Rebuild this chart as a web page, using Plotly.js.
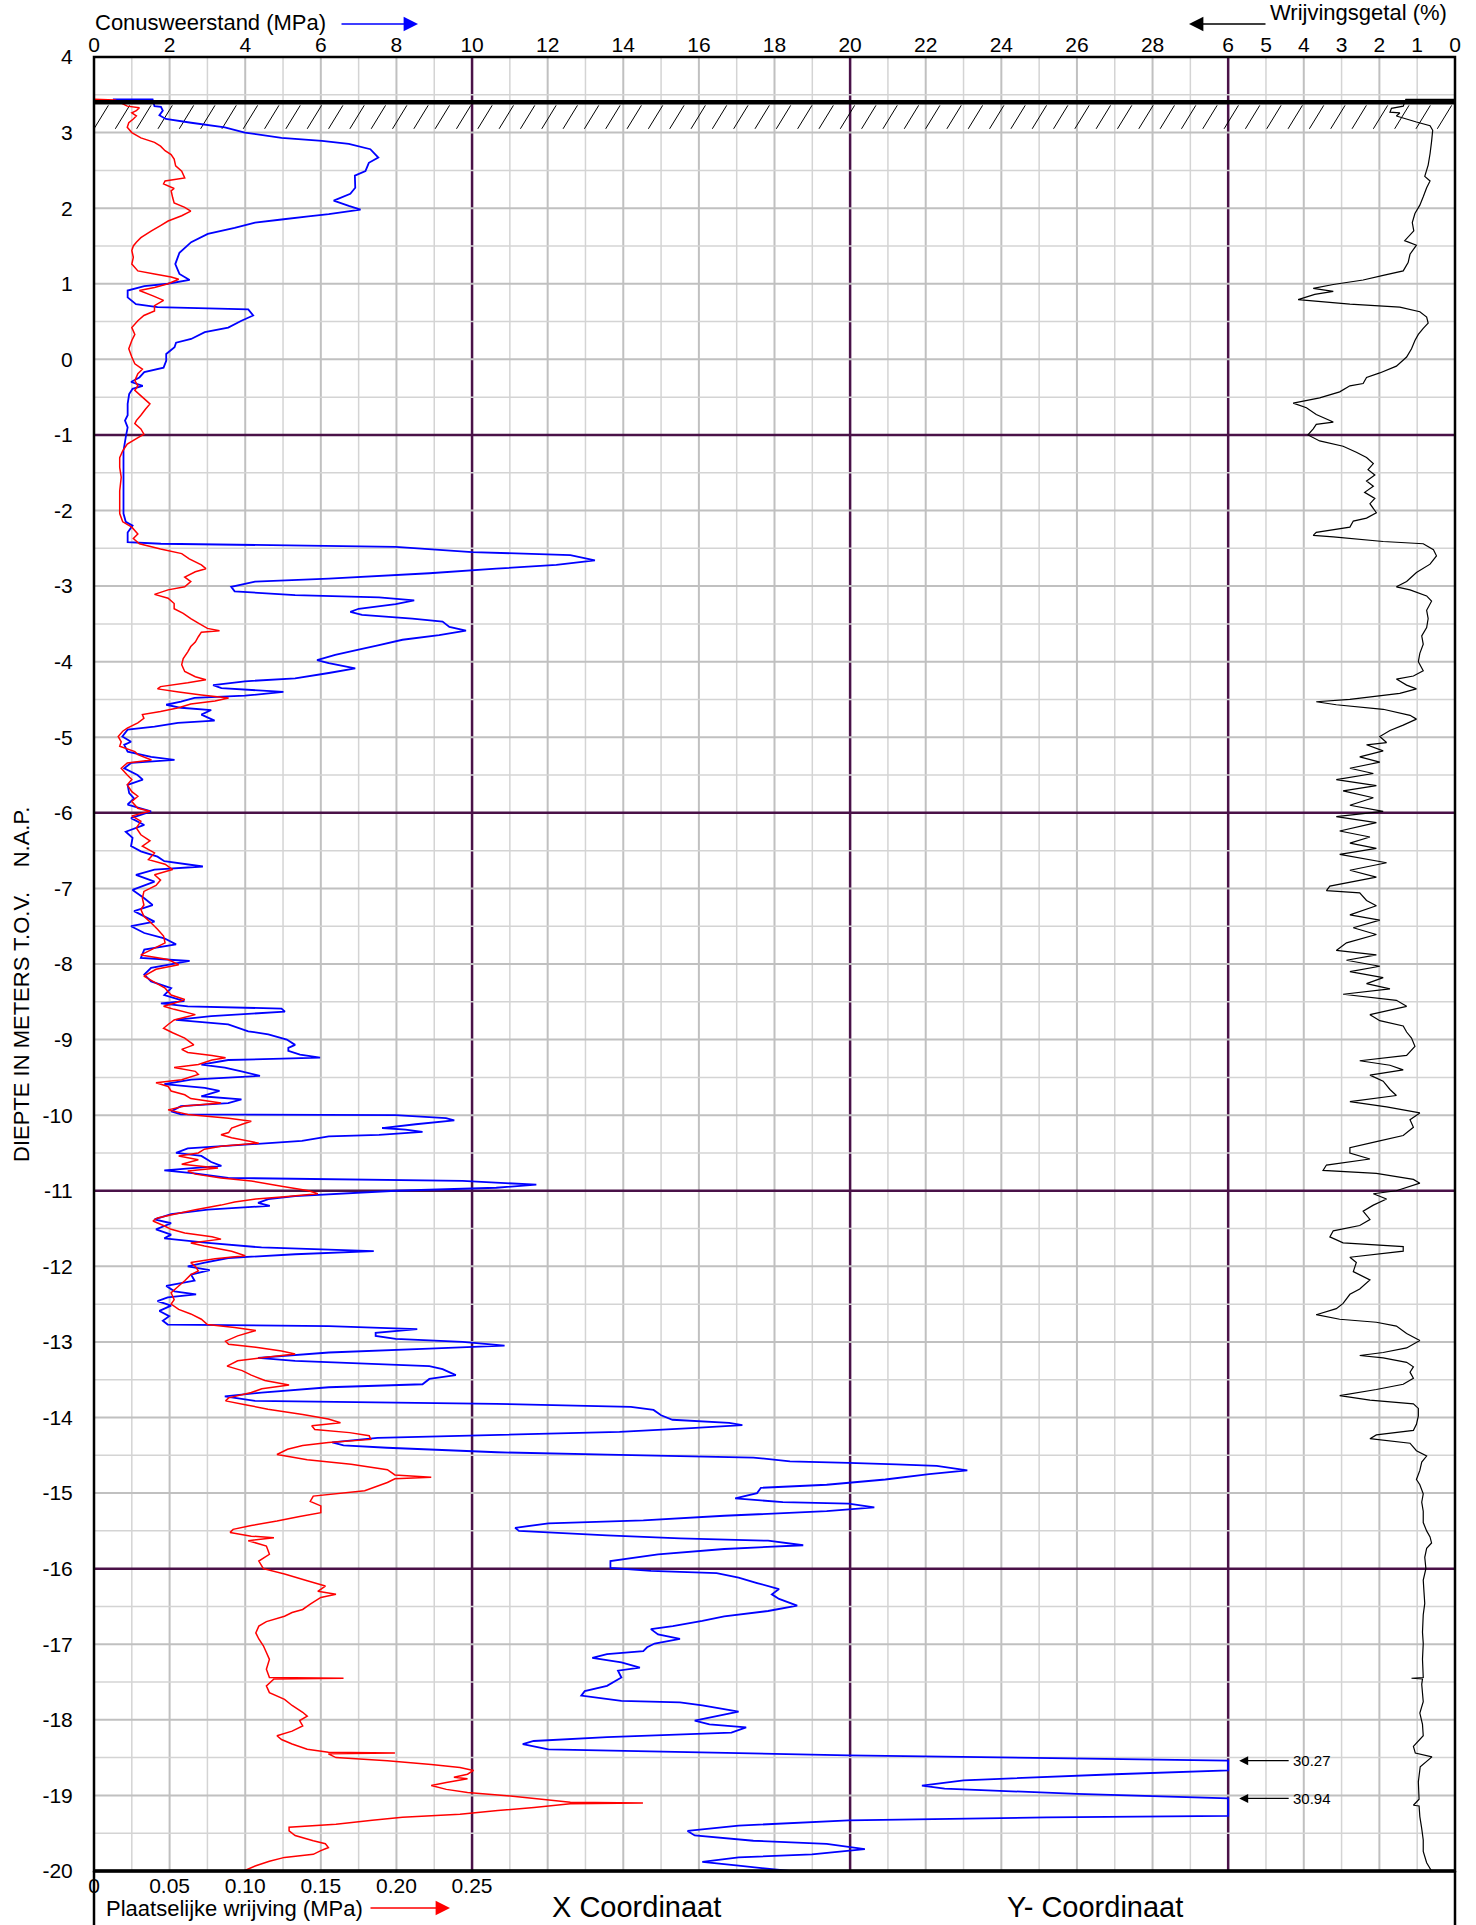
<!DOCTYPE html>
<html>
<head>
<meta charset="utf-8">
<script src="https://cdn.plot.ly/plotly-3.0.1.min.js"></script>
<style>
html,body{margin:0;padding:0;background:#fff;}
#chart{width:1476px;height:1925px;}
</style>
</head>
<body>
<div id="chart"></div>
<script>
// ---------------- DATA ----------------
const depthTicks = [4,3,2,1,0,-1,-2,-3,-4,-5,-6,-7,-8,-9,-10,-11,-12,-13,-14,-15,-16,-17,-18,-19,-20];
const depthTickText = depthTicks.map(v => String(v));
const coneTicks = [0,2,4,6,8,10,12,14,16,18,20,22,24,26,28];
const ratioTicks = [6,5,4,3,2,1,0];
const fricTicks = [0,0.05,0.10,0.15,0.20,0.25];
const fricTickText = ['0','0.05','0.10','0.15','0.20','0.25'];
const groundLevel = 3.40;      // m NAP
const coneLimit = 30;          // MPa, cone scale is cut off here

// Conusweerstand [depth (m NAP), qc (MPa)]
const coneReadings = [
[3.44,0.50],[3.44,1.55],[3.35,1.60],[3.34,1.77],[3.29,1.82],[3.23,1.73],[3.18,1.90],[3.13,2.57],[3.07,3.46],[3.00,3.99],
[2.93,4.96],[2.89,6.03],[2.85,6.74],[2.78,7.31],[2.67,7.52],[2.60,7.27],[2.49,7.18],[2.43,6.90],[2.27,6.91],[2.19,6.78],
[2.10,6.34],[2.03,6.74],[1.98,7.05],[1.92,6.21],[1.89,5.67],[1.85,4.96],[1.81,4.26],[1.74,3.72],[1.66,3.01],[1.55,2.57],
[1.41,2.26],[1.26,2.15],[1.13,2.26],[1.05,2.53],[1.00,1.95],[0.97,1.33],[0.91,0.89],[0.82,0.89],[0.73,1.11],[0.69,1.68],
[0.66,4.08],[0.58,4.21],[0.51,3.90],[0.42,3.55],[0.36,2.93],[0.27,2.57],[0.22,2.17],[0.16,2.13],[0.07,1.91],[-0.02,1.91],
[-0.11,1.84],[-0.17,1.33],[-0.24,1.20],[-0.30,0.98],[-0.35,1.29],[-0.39,1.02],[-0.46,0.93],[-0.59,0.89],[-0.74,0.89],[-0.81,0.82],
[-0.90,0.89],[-1.03,0.84],[-1.21,0.78],[-1.52,0.78],[-1.74,0.78],[-2.04,0.78],[-2.15,0.84],[-2.20,1.02],[-2.29,0.89],[-2.42,0.89],
[-2.44,1.77],[-2.48,7.98],[-2.55,10.0],[-2.59,12.6],[-2.66,13.25],[-2.72,12.23],[-2.77,10.64],[-2.83,8.87],[-2.90,6.21],[-2.94,4.26],
[-3.01,3.63],[-3.07,3.72],[-3.12,5.32],[-3.15,7.54],[-3.19,8.47],[-3.24,7.98],[-3.30,7.00],[-3.34,6.78],[-3.38,7.09],[-3.43,8.42],
[-3.47,9.22],[-3.54,9.40],[-3.59,9.84],[-3.65,9.13],[-3.71,8.16],[-3.78,7.54],[-3.85,6.91],[-3.91,6.38],[-3.98,5.90],[-4.02,6.21],
[-4.09,6.91],[-4.15,6.21],[-4.22,5.32],[-4.26,3.99],[-4.31,3.15],[-4.35,3.37],[-4.40,5.01],[-4.45,3.99],[-4.48,2.66],[-4.53,2.30],
[-4.57,1.91],[-4.61,2.30],[-4.64,3.10],[-4.70,2.84],[-4.78,3.19],[-4.81,2.22],[-4.86,1.60],[-4.90,0.89],[-4.99,0.75],[-5.06,0.98],
[-5.10,0.80],[-5.19,0.89],[-5.26,1.51],[-5.30,2.13],[-5.34,0.98],[-5.41,0.80],[-5.50,1.15],[-5.56,1.29],[-5.63,0.89],[-5.74,0.93],
[-5.81,1.06],[-5.89,0.89],[-5.98,1.51],[-6.07,0.98],[-6.16,1.33],[-6.25,0.84],[-6.33,1.02],[-6.44,0.98],[-6.51,1.24],[-6.58,1.68],
[-6.64,1.86],[-6.71,2.88],[-6.75,1.60],[-6.82,1.11],[-6.91,1.60],[-7.02,1.02],[-7.13,1.33],[-7.22,1.55],[-7.30,1.06],[-7.44,1.60],
[-7.50,0.98],[-7.59,1.33],[-7.66,1.86],[-7.74,2.17],[-7.81,1.33],[-7.92,1.24],[-7.96,2.53],[-8.05,1.51],[-8.14,1.33],[-8.23,1.51],
[-8.32,2.04],[-8.41,1.86],[-8.49,2.39],[-8.52,1.77],[-8.56,2.48],[-8.59,4.96],[-8.63,5.05],[-8.69,3.10],[-8.74,2.17],[-8.80,3.55],
[-8.89,4.08],[-8.93,4.61],[-9.00,5.10],[-9.07,5.32],[-9.11,5.14],[-9.15,5.14],[-9.20,5.45],[-9.24,5.98],[-9.27,3.55],[-9.33,2.84],
[-9.37,3.46],[-9.42,3.90],[-9.48,4.39],[-9.53,2.57],[-9.59,1.86],[-9.64,2.93],[-9.68,3.32],[-9.75,2.84],[-9.79,3.90],[-9.84,3.55],
[-9.88,2.30],[-9.95,2.04],[-9.99,2.30],[-10.00,7.98],[-10.04,9.31],[-10.07,9.53],[-10.12,8.51],[-10.17,7.62],[-10.19,8.24],[-10.22,8.69],
[-10.26,7.54],[-10.28,6.21],[-10.34,5.50],[-10.39,3.99],[-10.44,2.48],[-10.50,2.17],[-10.54,2.84],[-10.62,3.10],[-10.67,3.37],[-10.73,1.86],
[-10.77,2.66],[-10.83,3.55],[-10.87,9.75],[-10.92,11.70],[-10.96,10.64],[-11.00,7.98],[-11.07,5.32],[-11.11,4.61],[-11.16,4.34],[-11.20,4.65],
[-11.25,3.01],[-11.31,2.04],[-11.38,1.60],[-11.43,2.04],[-11.51,1.64],[-11.58,2.04],[-11.63,1.86],[-11.69,3.01],[-11.75,4.43],[-11.80,7.40],
[-11.84,5.32],[-11.89,3.55],[-11.95,2.93],[-12.00,2.48],[-12.05,3.06],[-12.11,2.57],[-12.19,2.66],[-12.26,1.91],[-12.33,2.13],[-12.37,2.70],
[-12.41,1.95],[-12.46,1.68],[-12.52,2.04],[-12.59,1.73],[-12.66,1.99],[-12.72,1.82],[-12.77,1.95],[-12.79,6.21],[-12.83,8.55],[-12.88,7.45],
[-12.92,7.45],[-12.96,7.98],[-13.00,9.75],[-13.05,10.86],[-13.09,8.87],[-13.14,6.21],[-13.21,4.34],[-13.25,5.32],[-13.32,8.87],[-13.36,9.22],
[-13.44,9.57],[-13.49,8.87],[-13.56,8.69],[-13.60,6.21],[-13.67,4.43],[-13.72,3.46],[-13.78,4.26],[-13.82,10.64],[-13.86,14.20],[-13.90,14.80],
[-13.97,15.00],[-14.03,15.30],[-14.07,16.80],[-14.10,17.15],[-14.14,15.80],[-14.19,13.90],[-14.27,7.50],[-14.33,6.30],[-14.37,6.60],[-14.40,7.75],
[-14.46,10.66],[-14.49,13.57],[-14.53,17.44],[-14.58,18.41],[-14.60,19.96],[-14.62,21.22],[-14.64,22.29],[-14.70,23.10],[-14.75,22.09],[-14.82,20.93],
[-14.89,19.38],[-14.93,17.64],[-15.00,17.54],[-15.07,16.96],[-15.12,18.22],[-15.14,19.96],[-15.19,20.64],[-15.24,19.38],[-15.30,16.67],[-15.36,14.53],
[-15.40,12.02],[-15.46,11.14],[-15.50,11.24],[-15.56,13.57],[-15.60,15.50],[-15.63,17.83],[-15.69,18.76],[-15.74,16.67],[-15.81,14.92],[-15.90,13.66],
[-15.99,13.66],[-16.03,14.73],[-16.06,16.47],[-16.12,17.05],[-16.19,17.54],[-16.27,18.12],[-16.34,17.93],[-16.40,18.12],[-16.49,18.60],[-16.56,17.83],
[-16.63,16.67],[-16.69,16.09],[-16.76,15.31],[-16.80,14.73],[-16.87,14.92],[-16.93,15.50],[-16.99,14.83],[-17.04,14.63],[-17.09,14.53],[-17.13,13.57],
[-17.18,13.18],[-17.24,13.95],[-17.31,14.44],[-17.35,13.86],[-17.44,13.95],[-17.55,13.57],[-17.62,12.98],[-17.68,12.89],[-17.75,13.95],[-17.77,15.50],
[-17.81,16.09],[-17.89,17.05],[-17.95,16.47],[-18.01,15.89],[-18.06,16.28],[-18.10,17.25],[-18.17,16.86],[-18.23,13.57],[-18.28,11.63],[-18.32,11.34],
[-18.39,12.02],[-18.47,19.96],[-18.54,30.27],[-18.67,30.00],[-18.72,27.00],[-18.80,23.00],[-18.87,21.90],[-18.91,22.50],[-18.98,26.00],[-19.04,30.94],
[-19.27,30.00],[-19.29,25.20],[-19.33,19.96],[-19.40,17.05],[-19.47,15.70],[-19.53,15.89],[-19.60,17.44],[-19.64,19.38],[-19.71,20.39],[-19.78,18.99],
[-19.82,17.05],[-19.88,16.09],[-19.93,17.05],[-20.00,18.41]
];

// Plaatselijke wrijving [depth (m NAP), fs (MPa)]
const frictionReadings = [
[3.44,0.000],[3.43,0.014],[3.35,0.022],[3.33,0.030],[3.29,0.028],[3.26,0.025],[3.22,0.028],[3.18,0.026],[3.13,0.023],[3.07,0.022],
[3.00,0.025],[2.93,0.031],[2.87,0.040],[2.82,0.044],[2.76,0.047],[2.71,0.051],[2.65,0.053],[2.56,0.054],[2.49,0.058],[2.40,0.060],
[2.36,0.047],[2.32,0.046],[2.26,0.053],[2.23,0.051],[2.14,0.052],[2.07,0.053],[2.01,0.060],[1.96,0.064],[1.90,0.058],[1.83,0.049],
[1.77,0.044],[1.70,0.038],[1.61,0.031],[1.55,0.028],[1.50,0.026],[1.44,0.025],[1.35,0.026],[1.26,0.025],[1.17,0.029],[1.13,0.040],
[1.09,0.051],[1.06,0.056],[1.00,0.049],[0.95,0.040],[0.91,0.030],[0.84,0.039],[0.78,0.046],[0.71,0.040],[0.64,0.040],[0.58,0.033],
[0.51,0.029],[0.42,0.025],[0.33,0.027],[0.25,0.025],[0.14,0.023],[0.03,0.025],[-0.06,0.027],[-0.13,0.032],[-0.19,0.029],[-0.28,0.027],
[-0.35,0.029],[-0.41,0.027],[-0.50,0.032],[-0.59,0.037],[-0.66,0.034],[-0.74,0.031],[-0.81,0.028],[-0.85,0.027],[-0.92,0.031],[-0.99,0.033],
[-1.05,0.028],[-1.12,0.022],[-1.21,0.019],[-1.30,0.017],[-1.43,0.017],[-1.56,0.018],[-1.74,0.017],[-1.91,0.017],[-2.04,0.017],[-2.15,0.019],
[-2.22,0.025],[-2.31,0.029],[-2.37,0.026],[-2.44,0.030],[-2.51,0.044],[-2.57,0.058],[-2.64,0.063],[-2.72,0.071],[-2.77,0.074],[-2.81,0.067],
[-2.88,0.060],[-2.94,0.064],[-3.01,0.060],[-3.05,0.049],[-3.11,0.040],[-3.16,0.049],[-3.23,0.053],[-3.30,0.053],[-3.36,0.059],[-3.43,0.064],
[-3.49,0.069],[-3.56,0.075],[-3.59,0.083],[-3.61,0.071],[-3.67,0.069],[-3.74,0.067],[-3.80,0.064],[-3.87,0.062],[-3.96,0.059],[-4.04,0.058],
[-4.13,0.060],[-4.20,0.067],[-4.24,0.074],[-4.28,0.062],[-4.33,0.044],[-4.36,0.042],[-4.40,0.056],[-4.44,0.071],[-4.48,0.089],[-4.52,0.080],
[-4.56,0.064],[-4.61,0.056],[-4.66,0.044],[-4.70,0.032],[-4.75,0.033],[-4.81,0.029],[-4.88,0.022],[-4.92,0.019],[-4.99,0.016],[-5.06,0.018],
[-5.12,0.017],[-5.19,0.027],[-5.23,0.029],[-5.30,0.038],[-5.34,0.022],[-5.41,0.018],[-5.50,0.022],[-5.56,0.025],[-5.63,0.022],[-5.72,0.025],
[-5.78,0.029],[-5.85,0.025],[-5.94,0.029],[-5.98,0.037],[-6.04,0.025],[-6.11,0.031],[-6.20,0.028],[-6.29,0.031],[-6.37,0.037],[-6.44,0.032],
[-6.53,0.040],[-6.62,0.036],[-6.68,0.047],[-6.75,0.052],[-6.82,0.040],[-6.89,0.044],[-6.96,0.041],[-7.04,0.033],[-7.13,0.032],[-7.22,0.033],
[-7.28,0.031],[-7.37,0.033],[-7.46,0.038],[-7.54,0.042],[-7.63,0.046],[-7.72,0.047],[-7.81,0.038],[-7.88,0.031],[-7.94,0.049],[-8.01,0.056],
[-8.07,0.041],[-8.16,0.033],[-8.23,0.039],[-8.32,0.047],[-8.41,0.051],[-8.47,0.060],[-8.52,0.053],[-8.56,0.046],[-8.60,0.053],[-8.67,0.067],
[-8.74,0.053],[-8.80,0.049],[-8.85,0.046],[-8.91,0.052],[-8.98,0.060],[-9.07,0.066],[-9.13,0.058],[-9.17,0.062],[-9.21,0.078],[-9.24,0.087],
[-9.27,0.078],[-9.33,0.069],[-9.37,0.053],[-9.42,0.067],[-9.46,0.069],[-9.53,0.058],[-9.57,0.041],[-9.62,0.049],[-9.68,0.051],[-9.73,0.060],
[-9.78,0.064],[-9.84,0.084],[-9.88,0.060],[-9.93,0.049],[-9.99,0.062],[-10.04,0.089],[-10.08,0.104],[-10.12,0.098],[-10.17,0.091],[-10.23,0.089],
[-10.26,0.084],[-10.30,0.091],[-10.37,0.109],[-10.41,0.084],[-10.45,0.073],[-10.50,0.069],[-10.54,0.056],[-10.59,0.069],[-10.65,0.058],[-10.70,0.082],
[-10.74,0.062],[-10.78,0.067],[-10.83,0.084],[-10.87,0.104],[-10.94,0.124],[-11.00,0.142],[-11.04,0.148],[-11.08,0.126],[-11.11,0.107],[-11.15,0.093],
[-11.19,0.084],[-11.25,0.067],[-11.31,0.053],[-11.36,0.042],[-11.40,0.039],[-11.47,0.047],[-11.51,0.051],[-11.56,0.060],[-11.61,0.078],[-11.64,0.084],
[-11.69,0.064],[-11.73,0.073],[-11.80,0.091],[-11.86,0.100],[-11.90,0.080],[-11.95,0.064],[-12.00,0.067],[-12.06,0.069],[-12.11,0.064],[-12.19,0.060],
[-12.26,0.056],[-12.35,0.051],[-12.44,0.053],[-12.50,0.051],[-12.57,0.056],[-12.63,0.064],[-12.70,0.071],[-12.77,0.075],[-12.81,0.093],[-12.85,0.107],
[-12.92,0.095],[-12.99,0.087],[-13.03,0.089],[-13.07,0.107],[-13.12,0.124],[-13.16,0.133],[-13.21,0.111],[-13.25,0.095],[-13.32,0.088],[-13.38,0.098],
[-13.44,0.104],[-13.51,0.113],[-13.57,0.129],[-13.62,0.111],[-13.67,0.104],[-13.74,0.089],[-13.78,0.087],[-13.83,0.100],[-13.89,0.115],[-13.96,0.138],
[-14.02,0.155],[-14.07,0.163],[-14.11,0.144],[-14.16,0.146],[-14.20,0.169],[-14.24,0.182],[-14.29,0.183],[-14.33,0.155],[-14.37,0.138],[-14.42,0.128],
[-14.49,0.121],[-14.56,0.141],[-14.62,0.170],[-14.69,0.194],[-14.76,0.199],[-14.79,0.223],[-14.81,0.199],[-14.86,0.194],[-14.97,0.179],[-15.04,0.145],
[-15.11,0.143],[-15.17,0.150],[-15.26,0.150],[-15.31,0.136],[-15.37,0.121],[-15.43,0.104],[-15.48,0.092],[-15.52,0.090],[-15.57,0.104],[-15.59,0.119],
[-15.63,0.102],[-15.70,0.114],[-15.81,0.116],[-15.90,0.109],[-16.00,0.112],[-16.07,0.126],[-16.16,0.141],[-16.23,0.153],[-16.30,0.148],[-16.34,0.160],
[-16.38,0.150],[-16.47,0.143],[-16.54,0.138],[-16.58,0.131],[-16.63,0.126],[-16.70,0.114],[-16.76,0.109],[-16.85,0.107],[-16.93,0.109],[-17.02,0.112],
[-17.11,0.114],[-17.20,0.116],[-17.33,0.114],[-17.44,0.116],[-17.45,0.165],[-17.46,0.119],[-17.55,0.114],[-17.64,0.116],[-17.73,0.126],[-17.81,0.131],
[-17.90,0.138],[-17.95,0.141],[-18.01,0.136],[-18.08,0.138],[-18.15,0.131],[-18.21,0.121],[-18.26,0.124],[-18.32,0.131],[-18.39,0.141],[-18.43,0.155],
[-18.44,0.199],[-18.45,0.155],[-18.50,0.160],[-18.54,0.194],[-18.59,0.223],[-18.63,0.242],[-18.67,0.251],[-18.72,0.247],[-18.76,0.238],[-18.78,0.247],
[-18.83,0.233],[-18.87,0.223],[-18.92,0.233],[-18.96,0.247],[-19.00,0.271],[-19.05,0.296],[-19.09,0.315],[-19.10,0.363],[-19.11,0.315],[-19.16,0.291],
[-19.20,0.267],[-19.25,0.242],[-19.29,0.204],[-19.33,0.184],[-19.38,0.160],[-19.42,0.129],[-19.47,0.129],[-19.53,0.133],[-19.60,0.145],[-19.64,0.153],
[-19.69,0.155],[-19.73,0.150],[-19.78,0.145],[-19.82,0.126],[-19.87,0.116],[-19.93,0.107],[-20.00,0.099]
];

// Wrijvingsgetal [depth (m NAP), Rf (%)]
const ratioReadings = [
[3.44,0.00],[3.44,1.30],[3.35,1.37],[3.32,1.68],[3.27,1.72],[3.26,1.46],[3.22,1.55],[3.14,1.02],[3.09,0.66],[3.03,0.59],
[2.88,0.62],[2.72,0.66],[2.57,0.71],[2.42,0.80],[2.36,0.66],[2.27,0.75],[2.15,0.84],[2.04,0.93],[1.93,1.06],[1.81,1.13],
[1.70,1.09],[1.57,1.33],[1.51,1.02],[1.39,1.19],[1.28,1.24],[1.17,1.37],[1.11,1.90],[1.05,2.43],[0.99,3.22],[0.94,3.75],
[0.90,3.22],[0.86,3.71],[0.79,4.15],[0.73,2.78],[0.69,1.46],[0.63,0.93],[0.56,0.75],[0.48,0.71],[0.41,0.84],[0.33,0.97],
[0.25,1.06],[0.14,1.15],[0.03,1.28],[-0.09,1.55],[-0.18,1.99],[-0.24,2.34],[-0.32,2.43],[-0.35,2.78],[-0.43,3.05],[-0.51,3.58],
[-0.58,4.28],[-0.64,3.93],[-0.73,3.67],[-0.83,3.22],[-0.86,3.67],[-0.92,3.75],[-1.00,3.89],[-1.08,3.58],[-1.15,2.96],[-1.23,2.61],
[-1.30,2.34],[-1.38,2.16],[-1.46,2.30],[-1.53,2.12],[-1.61,2.34],[-1.68,2.16],[-1.76,2.39],[-1.84,2.12],[-1.91,2.25],[-2.03,2.08],
[-2.10,2.34],[-2.14,2.69],[-2.22,2.78],[-2.29,3.67],[-2.33,3.75],[-2.35,3.22],[-2.41,1.90],[-2.44,0.84],[-2.52,0.57],[-2.60,0.49],
[-2.71,0.66],[-2.82,1.02],[-2.94,1.28],[-3.01,1.55],[-3.05,1.19],[-3.13,0.75],[-3.20,0.62],[-3.32,0.75],[-3.43,0.71],[-3.55,0.75],
[-3.66,0.88],[-3.77,0.84],[-3.89,0.93],[-4.00,0.97],[-4.12,0.84],[-4.19,1.10],[-4.23,1.55],[-4.31,1.28],[-4.36,1.02],[-4.42,1.46],
[-4.50,2.78],[-4.53,3.67],[-4.57,3.14],[-4.63,1.90],[-4.71,1.19],[-4.76,1.02],[-4.84,1.37],[-4.91,1.72],[-4.99,1.99],[-5.07,1.81],
[-5.10,2.34],[-5.18,1.90],[-5.26,2.52],[-5.33,1.99],[-5.41,2.78],[-5.48,2.16],[-5.56,3.14],[-5.64,2.08],[-5.71,2.96],[-5.80,2.16],
[-5.90,2.78],[-5.98,1.90],[-6.05,3.14],[-6.13,2.08],[-6.24,3.05],[-6.32,2.25],[-6.40,2.78],[-6.47,2.08],[-6.55,3.05],[-6.66,1.81],
[-6.76,2.78],[-6.85,2.08],[-6.97,3.31],[-7.03,3.40],[-7.06,2.52],[-7.16,2.34],[-7.23,2.08],[-7.35,2.78],[-7.42,1.99],[-7.52,2.69],
[-7.61,2.08],[-7.72,2.87],[-7.82,3.14],[-7.88,2.08],[-7.95,2.87],[-8.03,1.99],[-8.10,2.78],[-8.18,1.90],[-8.26,2.34],[-8.33,1.72],
[-8.40,2.96],[-8.48,1.55],[-8.56,1.28],[-8.67,2.25],[-8.75,1.99],[-8.82,1.37],[-8.90,1.28],[-8.98,1.15],[-9.09,1.06],[-9.21,1.28],
[-9.28,2.52],[-9.34,1.72],[-9.40,1.37],[-9.47,2.25],[-9.55,1.90],[-9.66,1.72],[-9.74,1.55],[-9.82,2.78],[-9.89,1.81],[-9.97,0.93],
[-10.06,1.19],[-10.16,1.10],[-10.27,1.37],[-10.35,2.08],[-10.43,2.78],[-10.50,2.78],[-10.58,2.25],[-10.66,3.40],[-10.73,3.49],[-10.77,2.08],
[-10.85,1.10],[-10.90,0.93],[-11.00,1.55],[-11.04,2.16],[-11.11,1.81],[-11.19,2.16],[-11.27,2.43],[-11.38,2.25],[-11.46,2.52],[-11.53,3.22],
[-11.61,3.31],[-11.69,2.96],[-11.74,1.37],[-11.80,1.37],[-11.88,2.78],[-11.95,2.61],[-12.07,2.69],[-12.18,2.25],[-12.30,2.52],[-12.37,2.78],
[-12.49,2.96],[-12.56,3.14],[-12.64,3.67],[-12.70,3.05],[-12.74,2.08],[-12.79,1.55],[-12.89,1.28],[-12.98,0.93],[-13.08,1.28],[-13.14,1.90],
[-13.18,2.52],[-13.21,1.90],[-13.27,1.28],[-13.33,1.10],[-13.40,1.19],[-13.48,1.10],[-13.56,1.37],[-13.63,2.08],[-13.71,3.05],[-13.77,2.25],
[-13.82,1.10],[-13.88,0.97],[-13.98,0.97],[-14.09,1.02],[-14.17,1.10],[-14.23,2.08],[-14.28,2.25],[-14.34,1.19],[-14.44,1.02],[-14.51,0.75],
[-14.59,0.88],[-14.70,0.93],[-14.82,1.02],[-14.89,0.93],[-15.01,0.84],[-15.12,0.88],[-15.24,0.84],[-15.39,0.84],[-15.50,0.75],[-15.58,0.66],
[-15.66,0.62],[-15.73,0.75],[-15.85,0.80],[-16.00,0.77],[-16.15,0.84],[-16.31,0.82],[-16.46,0.80],[-16.61,0.84],[-16.84,0.86],[-16.99,0.84],
[-17.20,0.86],[-17.44,0.84],[-17.45,1.15],[-17.46,0.86],[-17.53,0.88],[-17.76,0.84],[-17.91,0.93],[-18.06,0.86],[-18.21,0.84],[-18.35,1.10],
[-18.44,1.05],[-18.49,0.61],[-18.62,0.92],[-18.82,0.97],[-19.05,0.95],[-19.13,1.10],[-19.14,0.95],[-19.28,0.93],[-19.44,0.88],[-19.59,0.84],
[-19.74,0.84],[-19.89,0.75],[-20.00,0.62]
];

// ---------------- STYLE ----------------
const FONT = 'Liberation Sans, Arial, Helvetica, sans-serif';
const PURPLE = '#4a1248';
const GRID_MAJOR = '#c0c0c0';
const GRID_MINOR = '#d4d4d4';
const W = 1476, H = 1925;
const M = {l: 94, r: 21, t: 57, b: 54};
const PH = H - M.t - M.b;       // plot height in px
const PW = W - M.l - M.r;       // plot width in px
const FRAME_UNITS = 36;         // width of frame in cone-scale units (30 MPa + 6 %)
const px2py = p => (H - M.b - p) / PH;   // page y-pixel -> paper y
const px2px = p => (p - M.l) / PW;       // page x-pixel -> paper x

const coneDepth = coneReadings.map(r => r[0]);
const coneValue = coneReadings.map(r => r[1]);
const frictionDepth = frictionReadings.map(r => r[0]);
const frictionValue = frictionReadings.map(r => r[1]);
const ratioDepth = ratioReadings.map(r => r[0]);
const ratioValue = ratioReadings.map(r => r[1]);

// ---------------- SHAPES (grid, hatch, frame) ----------------
const shapes = [];
for (let v = 1; v < FRAME_UNITS; v++) {
  const purple = v % 10 === 0;
  const major = v % 2 === 0;
  shapes.push({type: 'line', xref: 'x', yref: 'paper', x0: v, x1: v, y0: 0, y1: 1, layer: 'below',
    line: {color: purple ? PURPLE : (major ? GRID_MAJOR : GRID_MINOR), width: purple ? 2.5 : (major ? 2 : 1.5)}});
}
for (let i = 1; i < 48; i++) {
  const d = 4 - i * 0.5;
  const purple = Number.isInteger(d) && ((-d - 1) % 5 === 0) && d <= -1;
  const major = Number.isInteger(d);
  shapes.push({type: 'line', xref: 'paper', yref: 'y', x0: 0, x1: 1, y0: d, y1: d, layer: 'below',
    line: {color: purple ? PURPLE : (major ? GRID_MAJOR : GRID_MINOR), width: purple ? 2.5 : (major ? 2 : 1.5)}});
}
// hatching below ground level
const HATCH_STEP = 0.564, HATCH_DX = 0.38;
for (let xb = 0; xb + HATCH_DX < FRAME_UNITS; xb += HATCH_STEP) {
  shapes.push({type: 'line', xref: 'x', yref: 'y', x0: xb, y0: groundLevel - 0.35, x1: xb + HATCH_DX, y1: groundLevel - 0.04,
    layer: 'below', line: {color: '#000', width: 1}});
}
// ground level line
shapes.push({type: 'line', xref: 'paper', yref: 'y', x0: 0, x1: 1, y0: groundLevel, y1: groundLevel, layer: 'above',
  line: {color: '#000', width: 4.5}});
// frame
shapes.push({type: 'rect', xref: 'paper', yref: 'paper', x0: 0, x1: 1, y0: 0, y1: 1, layer: 'above',
  line: {color: '#000', width: 2.5}});
shapes.push({type: 'line', xref: 'paper', yref: 'paper', x0: 0, x1: 1, y0: 0, y1: 0, layer: 'above',
  line: {color: '#000', width: 3.5}});
shapes.push({type: 'line', xref: 'paper', yref: 'paper', x0: 0, x1: 0, y0: 0, y1: -0.05, layer: 'above',
  line: {color: '#000', width: 2.5}});
shapes.push({type: 'line', xref: 'paper', yref: 'paper', x0: 1, x1: 1, y0: 0, y1: -0.05, layer: 'above',
  line: {color: '#000', width: 2.5}});

// ---------------- ANNOTATIONS ----------------
const annotations = [
  {text: 'Conusweerstand (MPa)', xref: 'paper', yref: 'paper', x: px2px(93), y: px2py(22),
   xanchor: 'left', yanchor: 'middle', showarrow: false, font: {size: 22, family: FONT, color: '#000'}},
  {text: '', xref: 'paper', yref: 'paper', x: px2px(418), y: px2py(24), ax: -78, ay: 0,
   showarrow: true, arrowhead: 2, arrowsize: 1.8, arrowwidth: 1.6, arrowcolor: '#0000ff'},
  {text: 'Wrijvingsgetal (%)', xref: 'paper', yref: 'paper', x: px2px(1449), y: px2py(13),
   xanchor: 'right', yanchor: 'middle', showarrow: false, font: {size: 22, family: FONT, color: '#000'}},
  {text: '', xref: 'paper', yref: 'paper', x: px2px(1189), y: px2py(24), ax: 78, ay: 0,
   showarrow: true, arrowhead: 2, arrowsize: 1.8, arrowwidth: 1.6, arrowcolor: '#000'},
  {text: 'Plaatselijke wrijving (MPa)', xref: 'paper', yref: 'paper', x: px2px(104), y: px2py(1908),
   xanchor: 'left', yanchor: 'middle', showarrow: false, font: {size: 22, family: FONT, color: '#000'}},
  {text: '', xref: 'paper', yref: 'paper', x: px2px(450), y: px2py(1908), ax: -81, ay: 0,
   showarrow: true, arrowhead: 2, arrowsize: 1.8, arrowwidth: 1.6, arrowcolor: '#ff0000'},
  {text: 'X Coordinaat', xref: 'paper', yref: 'paper', x: px2px(636), y: px2py(1907),
   xanchor: 'center', yanchor: 'middle', showarrow: false, font: {size: 29, family: FONT, color: '#000'}},
  {text: 'Y- Coordinaat', xref: 'paper', yref: 'paper', x: px2px(1095), y: px2py(1907),
   xanchor: 'center', yanchor: 'middle', showarrow: false, font: {size: 29, family: FONT, color: '#000'}},
  {text: 'DIEPTE IN METERS T.O.V.\u00a0\u00a0\u00a0\u00a0N.A.P.', xref: 'paper', yref: 'paper', x: px2px(21), y: px2py(985),
   xanchor: 'center', yanchor: 'middle', textangle: -90, showarrow: false, font: {size: 22, family: FONT, color: '#000'}}
];
// labels for cone values beyond the scale end
for (let i = 0; i < coneValue.length; i++) {
  if (coneValue[i] > coneLimit && !(i > 0 && coneValue[i - 1] > coneLimit)) {
    annotations.push({text: coneValue[i].toFixed(2), xref: 'x', yref: 'y', x: coneLimit, y: coneDepth[i],
      showarrow: true, ax: 84, ay: 0, standoff: 11, borderpad: 4, arrowhead: 2, arrowsize: 1.5, arrowwidth: 1.2,
      arrowcolor: '#000', font: {size: 15, family: FONT, color: '#000'}});
  }
}

// ---------------- TRACES ----------------
const traces = [
  {type: 'scatter', mode: 'lines', name: 'Conusweerstand', x: coneValue.map(v => Math.min(v, coneLimit)), y: coneDepth,
   xaxis: 'x', yaxis: 'y', line: {color: '#0000ff', width: 1.8, simplify: false}, hoverinfo: 'skip'},
  {type: 'scatter', mode: 'lines', name: 'Plaatselijke wrijving', x: frictionValue, y: frictionDepth,
   xaxis: 'x3', yaxis: 'y', line: {color: '#ff0000', width: 1.5, simplify: false}, hoverinfo: 'skip'},
  {type: 'scatter', mode: 'lines', name: 'Wrijvingsgetal', x: ratioValue, y: ratioDepth,
   xaxis: 'x2', yaxis: 'y', line: {color: '#000000', width: 1.2, simplify: false}, hoverinfo: 'skip'}
];

const tickFont = {size: 21, family: FONT, color: '#000'};
const layout = {
  width: W, height: H,
  margin: M,
  paper_bgcolor: '#ffffff', plot_bgcolor: '#ffffff',
  showlegend: false,
  font: {family: FONT, color: '#000', size: 21},
  xaxis: {range: [0, FRAME_UNITS], side: 'top', tickmode: 'array', tickvals: coneTicks,
          showgrid: false, zeroline: false, showline: false, ticks: '', tickfont: tickFont, fixedrange: true},
  xaxis2: {overlaying: 'x', anchor: 'y', range: [FRAME_UNITS, 0], side: 'top', tickmode: 'array', tickvals: ratioTicks,
           showgrid: false, zeroline: false, showline: false, ticks: '', tickfont: tickFont, fixedrange: true},
  xaxis3: {overlaying: 'x', anchor: 'y', range: [0, FRAME_UNITS * 0.025], side: 'bottom', tickmode: 'array',
           tickvals: fricTicks, ticktext: fricTickText,
           showgrid: false, zeroline: false, showline: false, ticks: '', tickfont: tickFont, fixedrange: true},
  yaxis: {range: [-20, 4], tickmode: 'array', tickvals: depthTicks, ticktext: depthTickText,
          showgrid: false, zeroline: false, showline: false,
          ticks: 'outside', ticklen: 16, tickcolor: 'rgba(0,0,0,0)', tickfont: tickFont, fixedrange: true},
  shapes: shapes,
  annotations: annotations
};

Plotly.newPlot('chart', traces, layout, {displayModeBar: false, staticPlot: true});
</script>
</body>
</html>
